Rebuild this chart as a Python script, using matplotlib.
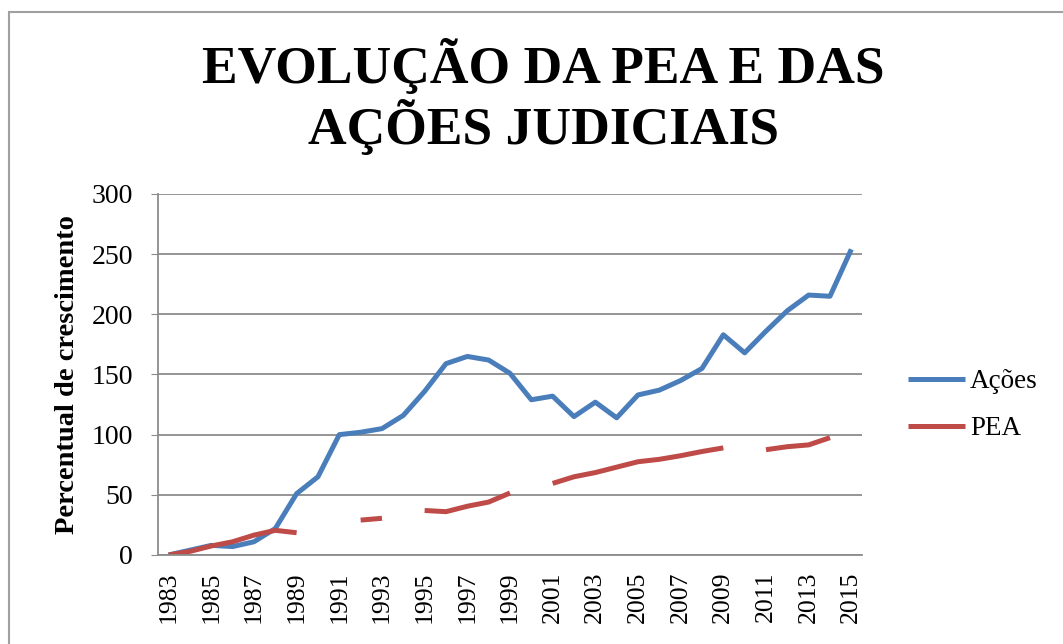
import numpy as np
import matplotlib.pyplot as plt
from matplotlib.patches import Rectangle

plt.rcParams['font.family'] = ['Liberation Serif', 'DejaVu Serif']

years = list(range(1983, 2016))
acoes = [0, 4, 8, 7, 11, 22, 51, 65, 100, 102, 105, 116, 136, 159, 165, 162,
         151, 129, 132, 115, 127, 114, 133, 137, 145, 155, 183, 168, 186, 203,
         216, 215, 254]
pea = [0, 3, 7.5, 11, 16.5, 20.5, 18.5, np.nan, np.nan, 29, 30.5, np.nan,
       37, 36, 40.5, 44, 51.5, np.nan, 59.5, 65, 68.5, 73, 77.5, 79.5, 82.5,
       86, 89, np.nan, 87.5, 90, 91.5, 97.5, np.nan]
yticks = [0, 50, 100, 150, 200, 250, 300]

blue = "#4a7ebb"
red = "#be4b48"
grid = "#8c8c8c"

fig = plt.figure(figsize=(10.63, 6.44), dpi=100)
ax = fig.add_axes([0.1486, 0.1382, 0.8109 - 0.1486, 0.6988 - 0.1382])

x = np.arange(len(years))
ax.plot(x, acoes, color=blue, lw=3.6, solid_capstyle="butt", label="Ações")
ax.plot(x, pea, color=red, lw=3.6, solid_capstyle="butt", label="PEA")

ax.set_xlim(-0.5, len(years) - 0.5)
ax.set_ylim(0, 300)
ax.set_yticks(yticks)
ax.set_yticklabels([str(v) for v in yticks], fontsize=20)
ax.set_xticks(x[::2])
ax.set_xticklabels([str(y) for y in years[::2]], rotation=90, fontsize=18.5)
ax.tick_params(axis="x", length=0, pad=12)
ax.tick_params(axis="y", length=5, color=grid, pad=13)
ax.yaxis.grid(True, color=grid, lw=1.3)
ax.set_axisbelow(True)
for s in ["top", "right"]:
    ax.spines[s].set_visible(False)
for s in ["left", "bottom"]:
    ax.spines[s].set_color(grid)
    ax.spines[s].set_linewidth(1.3)

ax.set_ylabel("Percentual de crescimento", fontsize=20.5, fontweight="bold", labelpad=8)

fig.text(0.511, 0.897, "EVOLUÇÃO DA PEA E DAS", ha="center", va="center",
         fontsize=38.5, fontweight="bold")
fig.text(0.511, 0.803, "AÇÕES JUDICIAIS", ha="center", va="center",
         fontsize=38.5, fontweight="bold")

leg = ax.legend(loc="center left", bbox_to_anchor=(1.065, 0.415), frameon=False,
                fontsize=19.5, handlelength=2.1, labelspacing=0.8, handletextpad=0.2,
                borderpad=0, borderaxespad=0)

# outer chart border
fig.patches.append(Rectangle((9 / 1063, -0.05), 1.2, 1 - 12 / 644 + 0.05,
                             transform=fig.transFigure, fill=False,
                             edgecolor="#a0a0a0", lw=1.5))

fig.savefig("out.png", dpi=100)
